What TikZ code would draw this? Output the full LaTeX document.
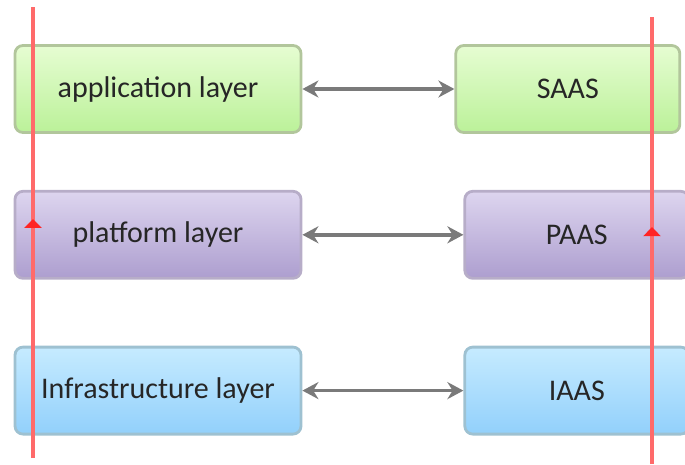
\documentclass[tikz,border=0pt]{standalone}
\usepackage{fontspec}
\setmainfont{Carlito}
\usetikzlibrary{arrows.meta, positioning, shapes}
\usetikzlibrary{decorations.markings}
\definecolor{appTop}{HTML}{E6FDD2}
\definecolor{appBot}{HTML}{BBF199}
\definecolor{appLine}{HTML}{B2C69C}
\definecolor{platTop}{HTML}{DDD5EF}
\definecolor{platBot}{HTML}{AD9ECF}
\definecolor{platLine}{HTML}{B7ADC8}
\definecolor{infTop}{HTML}{C6EBFF}
\definecolor{infBot}{HTML}{92D0FB}
\definecolor{infLine}{HTML}{9EC1D1}
\definecolor{linkGray}{HTML}{7A7A7A}
\definecolor{flowRed}{HTML}{FF6A6A}
\definecolor{flowTip}{HTML}{FF2424}
\tikzstyle{layer} = [rectangle, rounded corners=8pt, minimum width=286pt, minimum height=87pt, line width=2.8pt, font=\fontsize{30}{36}\selectfont, text=black!85]
\tikzstyle{service} = [layer, minimum width=224pt]
\tikzstyle{appbox} = [draw=appLine, top color=appTop, bottom color=appBot]
\tikzstyle{platbox} = [draw=platLine, top color=platTop, bottom color=platBot]
\tikzstyle{infbox} = [draw=infLine, top color=infTop, bottom color=infBot]
\tikzstyle{link} = [line width=3.5pt, draw=linkGray, {Stealth[length=16pt,width=17pt]}-{Stealth[length=16pt,width=17pt]}]
\tikzstyle{flow} = [line width=4pt, draw=flowRed, postaction={decorate},
  decoration={markings, mark=at position 0.53 with {\arrow[flowTip]{Triangle[length=9pt,width=17pt]}}}]

\begin{document}
\begin{tikzpicture}
      \path[use as bounding box] (0,0) rectangle (685pt,-464pt);

      \node (app) [layer, appbox] at (158pt,-89pt) {application layer};
      \node (saas) [service, appbox, right=152pt of app] {SAAS};
      \node (plat) [layer, platbox, below=56pt of app] {platform layer};
      \node (paas) [service, platbox, right=161pt of plat] {PAAS};
      \node (infra) [layer, infbox, below=66pt of plat] {Infrastructure layer};
      \node (iaas) [service, infbox, right=161pt of infra] {IAAS};

      \draw [link] (app) -- (saas);
      \draw [link] (plat) -- (paas);
      \draw [link] (infra) -- (iaas);

      % the two red lines run over the boxes
      \coordinate (l0) at (33pt,-458pt);
      \coordinate (l1) at (33pt,-7pt);
      \coordinate (r0) at (652pt,-464pt);
      \coordinate (r1) at (652pt,-17pt);
      \draw [flow] (l0) -- (l1);
      \draw [flow] (r0) -- (r1);
    \end{tikzpicture}
\end{document}
